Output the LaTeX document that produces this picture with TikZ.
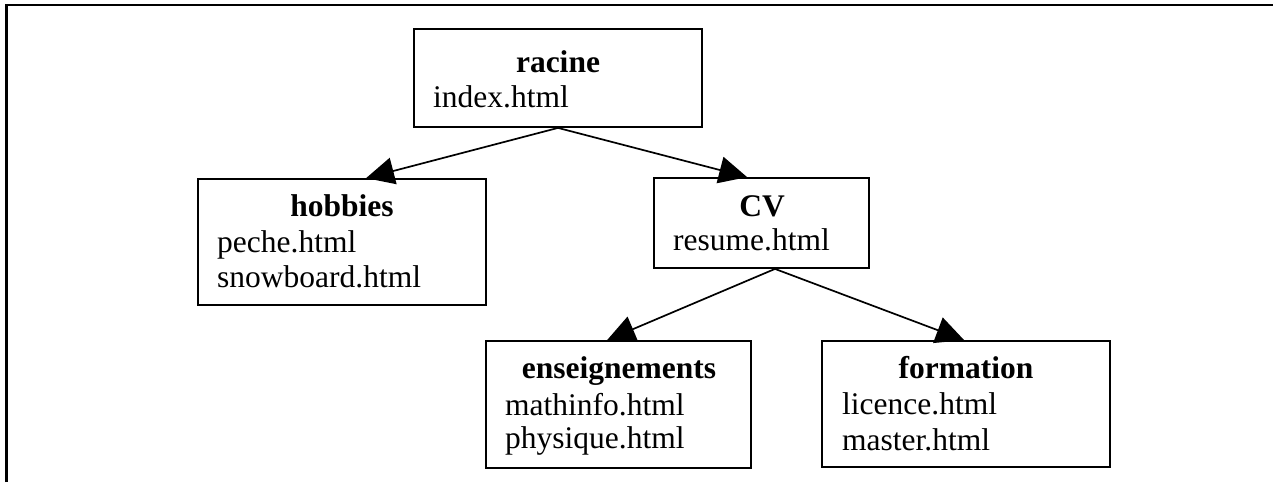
\documentclass[tikz,border=0pt]{standalone}
\usepackage{fontspec}
\setmainfont{Liberation Serif}
\usetikzlibrary{arrows.meta,calc}
\tikzset{
  box/.style={draw=black, line width=1.8pt, inner sep=0pt, fill=white},
  ttl/.style={inner sep=0pt, anchor=base, font=\fontsize{31.5}{36}\selectfont\bfseries},
  fl/.style={inner sep=0pt, anchor=base west, font=\fontsize{31.5}{36}\selectfont},
  arr/.style={draw=black, line width=1.7pt, -{Triangle[length=28pt,width=27pt]}},
  frame/.style={draw=black, line width=2.4pt}
}
\begin{document}
\begin{tikzpicture}[x=1pt,y=-1pt]
\useasboundingbox (0,0) rectangle (1273,482);
% frame
\coordinate (fl0) at (6.3,482);
\coordinate (fc) at (6.3,5);
\coordinate (fr) at (1273,5);
\draw[frame] (fl0) -- (fc) -- (fr);
% boxes
\node[box, minimum width=288pt, minimum height=98pt] (racine) at (558,78) {};
\node[box, minimum width=288pt, minimum height=126pt] (hobbies) at (342,242) {};
\node[box, minimum width=215pt, minimum height=90pt] (cv) at (761.5,223) {};
\node[box, minimum width=265pt, minimum height=127pt] (ens) at (618.5,404.5) {};
\node[box, minimum width=288pt, minimum height=126pt] (form) at (966,404) {};
% texts
\node[ttl] (t1) at (558,72) {racine};
\node[fl] (r1) at (433,107) {index.html};
\node[ttl] (t2) at (342,216) {hobbies};
\node[fl] (h1) at (217,252) {peche.html};
\node[fl] (h2) at (217,287) {snowboard.html};
\node[ttl] (t3) at (762,216) {CV};
\node[fl] (c1) at (673,250) {resume.html};
\node[ttl] (t4) at (619,378) {enseignements};
\node[fl] (e1) at (505,415) {mathinfo.html};
\node[fl] (e2) at (505,448) {physique.html};
\node[ttl] (t5) at (966,378) {formation};
\node[fl] (f1) at (842,414) {licence.html};
\node[fl] (f2) at (842,450) {master.html};
% connectors
\draw[arr] (racine.south) -- ($(hobbies.north west)+(169,0)$);
\draw[arr] (racine.south) -- ($(cv.north west)+(94,0)$);
\draw[arr] ($(cv.south)+(13.5,0)$) -- ($(ens.north west)+(122,0)$);
\draw[arr] ($(cv.south)+(13.5,0)$) -- ($(form.north west)+(143,0)$);
\end{tikzpicture}
\end{document}
